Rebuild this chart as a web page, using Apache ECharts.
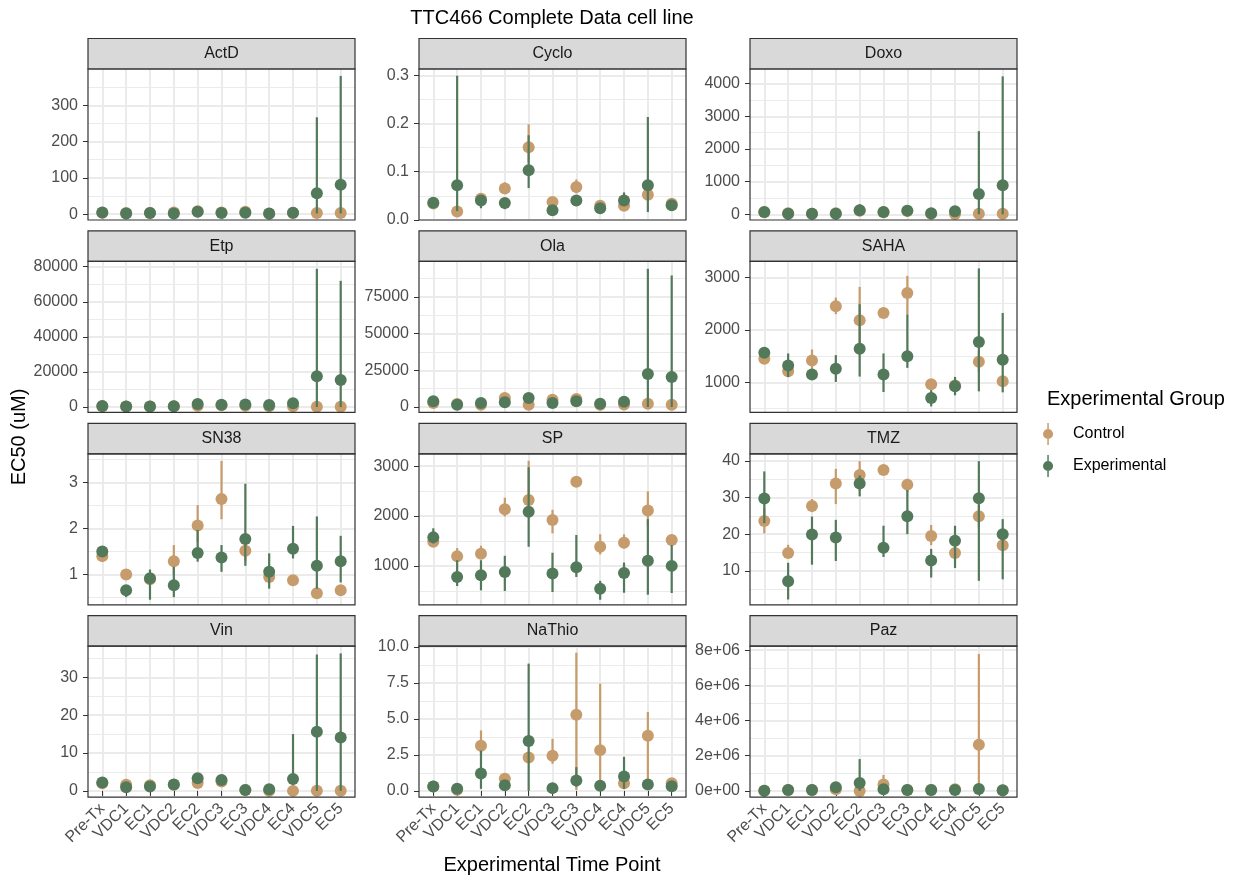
<!DOCTYPE html>
<html><head><meta charset="utf-8">
<script src="https://cdn.jsdelivr.net/npm/echarts@6/dist/echarts.min.js"></script>
<style>html,body{margin:0;padding:0;background:#fff}#chart{width:1236px;height:879px}</style>
</head><body><div id="chart"></div>
<script>
// ---------------- DATA ----------------
const categories = ['Pre-Tx','VDC1','EC1','VDC2','EC2','VDC3','EC3','VDC4','EC4','VDC5','EC5'];
const drugs = ['ActD','Cyclo','Doxo','Etp','Ola','SAHA','SN38','SP','TMZ','Vin','NaThio','Paz'];
const groups = ['Control','Experimental'];

// ActD
const ActD_ctrl   = [4, 3, 3, 5, 8, 5, 7, 1, 3, 3, 3];
const ActD_ctrlLo = [2, 1, 1, 2, 4, 2, 3, 0.5, 1, 1, 1];
const ActD_ctrlHi = [6, 5, 5, 9, 12, 8, 11, 2, 5, 5, 5];
const ActD_exp    = [4.6, 2, 3, 2, 6.5, 3, 4, 2, 4, 58, 81];
const ActD_expLo  = [3, 1, 2, 1, 4, 2, 2, 1, 2, 2, 2];
const ActD_expHi  = [6, 3, 4, 3, 9, 4, 6, 3, 6, 267, 381];
const ActD_yRange = [-16, 400];
const ActD_yTicks = [0, 100, 200, 300];
const ActD_yLabels = ['0', '100', '200', '300'];
const ActD_yMinor = [50, 150, 250, 350];

// Cyclo
const Cyclo_ctrl   = [0.034, 0.0174, 0.044, 0.065, 0.151, 0.037, 0.068, 0.029, 0.029, 0.052, 0.0335];
const Cyclo_ctrlLo = [0.031, 0.015, 0.040, 0.055, 0.120, 0.033, 0.055, 0.026, 0.026, 0.045, 0.030];
const Cyclo_ctrlHi = [0.037, 0.020, 0.048, 0.078, 0.199, 0.041, 0.084, 0.032, 0.032, 0.060, 0.037];
const Cyclo_exp    = [0.0356, 0.072, 0.040, 0.035, 0.103, 0.020, 0.040, 0.024, 0.040, 0.072, 0.030];
const Cyclo_expLo  = [0.032, 0.018, 0.024, 0.022, 0.066, 0.017, 0.033, 0.021, 0.032, 0.016, 0.019];
const Cyclo_expHi  = [0.039, 0.300, 0.048, 0.045, 0.176, 0.023, 0.048, 0.027, 0.057, 0.214, 0.038];
const Cyclo_yRange = [-0.0005, 0.314];
const Cyclo_yTicks = [0, 0.1, 0.2, 0.3];
const Cyclo_yLabels = ['0.0', '0.1', '0.2', '0.3'];
const Cyclo_yMinor = [0.05, 0.15, 0.25];

// Doxo
const Doxo_ctrl   = [60, 30, 20, 30, 110, 60, 100, 20, 10, 20, 20];
const Doxo_ctrlLo = [40, 15, 10, 15, 60, 40, 70, 10, 5, 10, 10];
const Doxo_ctrlHi = [80, 45, 30, 45, 160, 80, 130, 30, 20, 30, 30];
const Doxo_exp    = [72, 20, 20, 20, 123, 72, 113, 31, 92, 624, 890];
const Doxo_expLo  = [55, 10, 10, 10, 60, 55, 90, 20, 60, 0, 0];
const Doxo_expHi  = [90, 30, 30, 30, 310, 90, 140, 45, 130, 2547, 4225];
const Doxo_yRange = [-174, 4450];
const Doxo_yTicks = [0, 1000, 2000, 3000, 4000];
const Doxo_yLabels = ['0', '1000', '2000', '3000', '4000'];
const Doxo_yMinor = [500, 1500, 2500, 3500];

// Etp
const Etp_ctrl   = [500, 300, 300, 400, 700, 1000, 700, 500, 500, 200, 200];
const Etp_ctrlLo = [300, 150, 150, 200, 400, 700, 400, 300, 300, 100, 100];
const Etp_ctrlHi = [700, 450, 450, 600, 1000, 1300, 1000, 700, 700, 300, 300];
const Etp_exp    = [570, 300, 300, 400, 1700, 1340, 1500, 1150, 2100, 17560, 15460];
const Etp_expLo  = [400, 200, 200, 250, 1000, 900, 1000, 800, 1400, 0, 0];
const Etp_expHi  = [750, 400, 400, 550, 2400, 1800, 2000, 1500, 2800, 78840, 71970];
const Etp_yRange = [-3050, 83040];
const Etp_yTicks = [0, 20000, 40000, 60000, 80000];
const Etp_yLabels = ['0', '20000', '40000', '60000', '80000'];
const Etp_yMinor = [10000, 30000, 50000, 70000];

// Ola
const Ola_ctrl   = [2800, 2000, 1500, 6150, 1600, 5000, 5470, 1600, 1800, 2280, 1600];
const Ola_ctrlLo = [2300, 1600, 1200, 5000, 1300, 4200, 4700, 1300, 1500, 1900, 1300];
const Ola_ctrlHi = [3300, 2400, 1800, 7300, 1900, 5800, 6200, 1900, 2100, 2700, 1900];
const Ola_exp    = [3875, 1600, 2700, 3200, 6150, 2700, 3875, 2280, 3650, 22570, 20520];
const Ola_expLo  = [3300, 1300, 2200, 2600, 5000, 2200, 3200, 1900, 3000, 0, 0];
const Ola_expHi  = [4400, 1900, 3200, 3800, 7300, 3200, 4500, 2700, 4300, 94150, 89590];
const Ola_yRange = [-3650, 99160];
const Ola_yTicks = [0, 25000, 50000, 75000];
const Ola_yLabels = ['0', '25000', '50000', '75000'];
const Ola_yMinor = [12500, 37500, 62500, 87500];

// SAHA
const SAHA_ctrl   = [1447, 1211, 1415, 2451, 2182, 2323, 2706, 962, 940, 1390, 1019];
const SAHA_ctrlLo = [1400, 1170, 1250, 2300, 1700, 2280, 2300, 920, 900, 1200, 950];
const SAHA_ctrlHi = [1490, 1250, 1626, 2617, 2821, 2370, 3032, 1000, 980, 1600, 1090];
const SAHA_exp    = [1562, 1320, 1147, 1256, 1639, 1147, 1498, 700, 923, 1767, 1428];
const SAHA_expLo  = [1520, 1100, 1100, 1006, 1109, 815, 1275, 540, 751, 827, 808];
const SAHA_expHi  = [1600, 1550, 1200, 1518, 2489, 1550, 2297, 850, 1102, 3173, 2323];
const SAHA_yRange = [425, 3307];
const SAHA_yTicks = [1000, 2000, 3000];
const SAHA_yLabels = ['1000', '2000', '3000'];
const SAHA_yMinor = [500, 1500, 2500];

// SN38
const SN38_ctrl   = [1.40, 1.00, 0.90, 1.29, 2.062, 2.636, 1.516, 0.95, 0.876, 0.593, 0.658];
const SN38_ctrlLo = [1.35, 0.95, 0.85, 1.00, 1.70, 2.20, 1.30, 0.90, 0.83, 0.55, 0.62];
const SN38_ctrlHi = [1.45, 1.05, 0.95, 1.64, 2.505, 3.465, 1.70, 1.00, 0.92, 0.64, 0.70];
const SN38_exp    = [1.502, 0.658, 0.92, 0.767, 1.47, 1.37, 1.77, 1.06, 1.56, 1.19, 1.29];
const SN38_expLo  = [1.42, 0.51, 0.455, 0.51, 1.28, 1.06, 1.19, 0.695, 1.35, 0.695, 0.83];
const SN38_expHi  = [1.60, 0.75, 1.11, 1.17, 1.97, 1.64, 2.97, 1.46, 2.055, 2.26, 1.84];
const SN38_yRange = [0.345, 3.618];
const SN38_yTicks = [1, 2, 3];
const SN38_yLabels = ['1', '2', '3'];
const SN38_yMinor = [0.5, 1.5, 2.5, 3.5];

// SP
const SP_ctrl   = [1485, 1195, 1242, 2138, 2320, 1922, 2690, 1384, 1465, 2111, 1519];
const SP_ctrlLo = [1420, 1100, 1150, 1990, 2100, 1653, 2640, 1229, 1350, 1800, 1450];
const SP_ctrlHi = [1550, 1357, 1404, 2367, 3108, 2125, 2740, 1633, 1633, 2495, 1590];
const SP_exp    = [1572, 778, 811, 879, 2084, 845, 973, 542, 858, 1101, 1000];
const SP_expLo  = [1450, 596, 508, 495, 1384, 475, 778, 320, 461, 421, 455];
const SP_expHi  = [1754, 1114, 1114, 1202, 2980, 1263, 1620, 700, 1067, 1936, 1418];
const SP_yRange = [219, 3249];
const SP_yTicks = [1000, 2000, 3000];
const SP_yLabels = ['1000', '2000', '3000'];
const SP_yMinor = [500, 1500, 2500];

// TMZ
const TMZ_ctrl   = [23.6, 14.9, 27.7, 33.8, 36.1, 37.5, 33.5, 19.5, 14.9, 24.9, 17.0];
const TMZ_ctrlLo = [20.2, 13.5, 26.0, 28.2, 32.0, 36.5, 31.5, 17.0, 13.5, 22.0, 15.5];
const TMZ_ctrlHi = [27.0, 17.1, 29.6, 37.8, 39.9, 38.5, 35.1, 22.5, 16.5, 28.0, 18.5];
const TMZ_exp    = [29.7, 7.2, 19.9, 19.1, 33.8, 16.3, 24.9, 12.8, 18.2, 29.8, 20.0];
const TMZ_expLo  = [23.0, 2.2, 11.7, 12.7, 30.3, 13.8, 20.0, 8.2, 10.8, 7.3, 7.7];
const TMZ_expHi  = [37.1, 12.2, 24.8, 23.9, 36.0, 22.3, 32.0, 16.0, 22.3, 39.9, 24.1];
const TMZ_yRange = [0.76, 41.9];
const TMZ_yTicks = [10, 20, 30, 40];
const TMZ_yLabels = ['10', '20', '30', '40'];
const TMZ_yMinor = [5, 15, 25, 35];

// Vin
const Vin_ctrl   = [2.0, 1.6, 1.5, 1.6, 2.1, 2.5, 0.2, 0.0, 0.0, 0.05, 0.05];
const Vin_ctrlLo = [1.8, 1.4, 1.3, 1.4, 1.9, 2.3, 0.1, 0.0, 0.0, 0.0, 0.0];
const Vin_ctrlHi = [2.2, 1.8, 1.7, 1.8, 2.3, 2.7, 0.3, 0.1, 0.1, 0.1, 0.1];
const Vin_exp    = [2.2, 0.96, 1.14, 1.67, 3.33, 2.9, 0.26, 0.44, 3.16, 15.6, 14.1];
const Vin_expLo  = [1.9, 0.7, 0.9, 1.4, 2.9, 2.5, 0.1, 0.2, 1.5, 0.0, 0.0];
const Vin_expHi  = [2.5, 1.2, 1.4, 1.9, 3.8, 3.3, 0.4, 0.7, 15.0, 36.0, 36.3];
const Vin_yRange = [-1.67, 38.2];
const Vin_yTicks = [0, 10, 20, 30];
const Vin_yLabels = ['0', '10', '20', '30'];
const Vin_yMinor = [5, 15, 25, 35];

// NaThio
const NaThio_ctrl   = [0.30, 0.07, 3.13, 0.84, 2.32, 2.44, 5.29, 2.83, 0.53, 3.83, 0.53];
const NaThio_ctrlLo = [0.25, 0.03, 2.50, 0.70, 2.00, 1.88, 0.07, 0.26, 0.40, 0.60, 0.45];
const NaThio_ctrlHi = [0.35, 0.10, 4.20, 1.00, 2.60, 3.62, 9.60, 7.45, 0.70, 5.48, 0.60];
const NaThio_exp    = [0.30, 0.14, 1.21, 0.39, 3.46, 0.19, 0.72, 0.35, 1.00, 0.44, 0.32];
const NaThio_expLo  = [0.25, 0.05, 0.14, 0.30, 0.00, 0.12, 0.30, 0.28, 0.14, 0.35, 0.26];
const NaThio_expHi  = [0.35, 0.20, 2.80, 0.50, 8.84, 0.25, 1.65, 0.42, 2.37, 0.55, 0.40];
const NaThio_yRange = [-0.44, 10.05];
const NaThio_yTicks = [0, 2.5, 5, 7.5, 10];
const NaThio_yLabels = ['0.0', '2.5', '5.0', '7.5', '10.0'];
const NaThio_yMinor = [1.25, 3.75, 6.25, 8.75];

// Paz
const Paz_ctrl   = [10000, 50000, 50000, 94000, 0, 360000, 50000, 50000, 94000, 2620000, 30000];
const Paz_ctrlLo = [5000, 30000, 30000, 60000, 0, 100000, 30000, 30000, 60000, 0, 20000];
const Paz_ctrlHi = [15000, 70000, 70000, 130000, 10000, 910000, 70000, 70000, 130000, 7790000, 40000];
const Paz_exp    = [10000, 57000, 57000, 210000, 450000, 94000, 57000, 50000, 57000, 110000, 38000];
const Paz_expLo  = [5000, 40000, 40000, 150000, 0, 60000, 40000, 30000, 40000, 60000, 25000];
const Paz_expHi  = [15000, 75000, 75000, 270000, 1810000, 130000, 75000, 70000, 75000, 160000, 50000];
const Paz_yRange = [-358000, 8230000];
const Paz_yTicks = [0, 2e6, 4e6, 6e6, 8e6];
const Paz_yLabels = ['0e+00', '2e+06', '4e+06', '6e+06', '8e+06'];
const Paz_yMinor = [1e6, 3e6, 5e6, 7e6];

// table built from the arrays above
const TABLE = {
  ActD:   {c:[ActD_ctrl,ActD_ctrlLo,ActD_ctrlHi], e:[ActD_exp,ActD_expLo,ActD_expHi], r:ActD_yRange, t:ActD_yTicks, l:ActD_yLabels, m:ActD_yMinor},
  Cyclo:  {c:[Cyclo_ctrl,Cyclo_ctrlLo,Cyclo_ctrlHi], e:[Cyclo_exp,Cyclo_expLo,Cyclo_expHi], r:Cyclo_yRange, t:Cyclo_yTicks, l:Cyclo_yLabels, m:Cyclo_yMinor},
  Doxo:   {c:[Doxo_ctrl,Doxo_ctrlLo,Doxo_ctrlHi], e:[Doxo_exp,Doxo_expLo,Doxo_expHi], r:Doxo_yRange, t:Doxo_yTicks, l:Doxo_yLabels, m:Doxo_yMinor},
  Etp:    {c:[Etp_ctrl,Etp_ctrlLo,Etp_ctrlHi], e:[Etp_exp,Etp_expLo,Etp_expHi], r:Etp_yRange, t:Etp_yTicks, l:Etp_yLabels, m:Etp_yMinor},
  Ola:    {c:[Ola_ctrl,Ola_ctrlLo,Ola_ctrlHi], e:[Ola_exp,Ola_expLo,Ola_expHi], r:Ola_yRange, t:Ola_yTicks, l:Ola_yLabels, m:Ola_yMinor},
  SAHA:   {c:[SAHA_ctrl,SAHA_ctrlLo,SAHA_ctrlHi], e:[SAHA_exp,SAHA_expLo,SAHA_expHi], r:SAHA_yRange, t:SAHA_yTicks, l:SAHA_yLabels, m:SAHA_yMinor},
  SN38:   {c:[SN38_ctrl,SN38_ctrlLo,SN38_ctrlHi], e:[SN38_exp,SN38_expLo,SN38_expHi], r:SN38_yRange, t:SN38_yTicks, l:SN38_yLabels, m:SN38_yMinor},
  SP:     {c:[SP_ctrl,SP_ctrlLo,SP_ctrlHi], e:[SP_exp,SP_expLo,SP_expHi], r:SP_yRange, t:SP_yTicks, l:SP_yLabels, m:SP_yMinor},
  TMZ:    {c:[TMZ_ctrl,TMZ_ctrlLo,TMZ_ctrlHi], e:[TMZ_exp,TMZ_expLo,TMZ_expHi], r:TMZ_yRange, t:TMZ_yTicks, l:TMZ_yLabels, m:TMZ_yMinor},
  Vin:    {c:[Vin_ctrl,Vin_ctrlLo,Vin_ctrlHi], e:[Vin_exp,Vin_expLo,Vin_expHi], r:Vin_yRange, t:Vin_yTicks, l:Vin_yLabels, m:Vin_yMinor},
  NaThio: {c:[NaThio_ctrl,NaThio_ctrlLo,NaThio_ctrlHi], e:[NaThio_exp,NaThio_expLo,NaThio_expHi], r:NaThio_yRange, t:NaThio_yTicks, l:NaThio_yLabels, m:NaThio_yMinor},
  Paz:    {c:[Paz_ctrl,Paz_ctrlLo,Paz_ctrlHi], e:[Paz_exp,Paz_expLo,Paz_expHi], r:Paz_yRange, t:Paz_yTicks, l:Paz_yLabels, m:Paz_yMinor}
};

// ---------------- LAYOUT / STYLE ----------------
const FONT = '"Liberation Sans", Arial, Helvetica, sans-serif';
const COLORS = {Control: '#C69C6D', Experimental: '#52795A'};
const colLeft = [88, 419, 750];
const panelW = 267;
const rowTop = [69, 261.4, 453.8, 646.2];
const panelH = 151;
const stripH = 30.5;
const inset = 0.6 * panelW / 11.2;
const GRID_MAJOR = '#EBEBEB';

const grids = [], xAxes = [], yAxes = [], series = [], graphics = [];

drugs.forEach((name, p) => {
  const r = Math.floor(p / 3), c = p % 3;
  const d = TABLE[name];
  const L = colLeft[c], T = rowTop[r];
  // frame grid (horizontal grid lines, y labels)
  grids.push({left: L, top: T, width: panelW, height: panelH, show: true, backgroundColor: '#fff', borderWidth: 0});
  // data grid (category positions with ggplot's 0.6 expansion)
  grids.push({left: L + inset, top: T, width: panelW - 2 * inset, height: panelH});
  const gA = 2 * p, gB = 2 * p + 1;
  xAxes.push({gridIndex: gA, type: 'value', min: 0, max: 1, show: false});
  xAxes.push({
    gridIndex: gB, type: 'category', data: categories, boundaryGap: false,
    axisLine: {show: false},
    axisTick: {show: r === 3, length: 5, interval: 0, lineStyle: {color: '#333333', width: 1}},
    axisLabel: {show: r === 3, rotate: 45, interval: 0, fontSize: 16, fontFamily: FONT, color: '#4D4D4D', margin: 9},
    splitLine: {show: true, interval: 0, lineStyle: {color: GRID_MAJOR, width: 2}}
  });
  const fmt = v => {
    const i = d.t.findIndex(t => Math.abs(t - v) <= 1e-9 * Math.max(1, Math.abs(t)));
    return i >= 0 ? d.l[i] : '';
  };
  yAxes.push({
    gridIndex: gA, type: 'value', min: d.r[0], max: d.r[1], position: 'left',
    axisLine: {show: false},
    axisTick: {show: true, length: 5, customValues: d.t, lineStyle: {color: '#333333', width: 1}},
    axisLabel: {show: true, customValues: d.t, formatter: fmt, fontSize: 16, fontFamily: FONT, color: '#4D4D4D', margin: 10},
    splitLine: {show: true, lineStyle: {color: GRID_MAJOR, width: 2}}
  });
  yAxes.push({
    gridIndex: gA, type: 'value', min: d.r[0], max: d.r[1], position: 'left',
    axisLine: {show: false},
    axisTick: {show: false, customValues: d.m},
    axisLabel: {show: false, customValues: d.m},
    splitLine: {show: true, lineStyle: {color: GRID_MAJOR, width: 1}}
  });
  yAxes.push({gridIndex: gB, type: 'value', min: d.r[0], max: d.r[1], show: false});

  const xi = gB, yi = 3 * p + 2;
  [['Control', d.c], ['Experimental', d.e]].forEach(([g, arr], gi) => {
    const col = COLORS[g];
    series.push({
      name: g, type: 'custom', coordinateSystem: 'cartesian2d', xAxisIndex: xi, yAxisIndex: yi,
      z: 2 + gi * 2, silent: true, itemStyle: {color: col},
      encode: {x: 0, y: [1, 2]},
      data: categories.map((cat, i) => [i, arr[1][i], arr[2][i]]),
      renderItem: (params, api) => {
        const x = api.value(0);
        const p1 = api.coord([x, api.value(1)]);
        const p2 = api.coord([x, api.value(2)]);
        return {type: 'line', shape: {x1: p1[0], y1: p1[1], x2: p2[0], y2: p2[1]},
                style: {stroke: col, lineWidth: 2.2}};
      }
    });
    series.push({
      name: g, type: 'scatter', xAxisIndex: xi, yAxisIndex: yi, z: 3 + gi * 2,
      symbol: 'circle', symbolSize: 12, itemStyle: {color: col, opacity: 1},
      emphasis: {disabled: true},
      data: categories.map((cat, i) => [i, arr[0][i]])
    });
  });

  // strip
  graphics.push({type: 'rect', z: 100, shape: {x: L, y: T - stripH, width: panelW, height: stripH},
    style: {fill: '#D9D9D9', stroke: '#333333', lineWidth: 1.2}});
  graphics.push({type: 'text', z: 101, x: L + panelW / 2, y: T - stripH / 2,
    style: {text: name, fontSize: 16, fontFamily: FONT, fill: '#1A1A1A', align: 'center', verticalAlign: 'middle', textAlign: 'center', textVerticalAlign: 'middle'}});
  // panel border on top
  graphics.push({type: 'rect', z: 100, shape: {x: L, y: T, width: panelW, height: panelH},
    style: {fill: 'none', stroke: '#333333', lineWidth: 1.2}});
});

// titles
graphics.push({type: 'text', z: 101, x: 552, y: 18,
  style: {text: 'TTC466 Complete Data cell line', fontSize: 20, fontFamily: FONT, fill: '#000', align: 'center', verticalAlign: 'middle', textAlign: 'center', textVerticalAlign: 'middle'}});
graphics.push({type: 'text', z: 101, x: 552, y: 865,
  style: {text: 'Experimental Time Point', fontSize: 20, fontFamily: FONT, fill: '#000', align: 'center', verticalAlign: 'middle', textAlign: 'center', textVerticalAlign: 'middle'}});
graphics.push({type: 'text', z: 101, x: 19, y: 437, rotation: Math.PI / 2,
  style: {text: 'EC50 (uM)', fontSize: 20, fontFamily: FONT, fill: '#000', align: 'center', verticalAlign: 'middle', textAlign: 'center', textVerticalAlign: 'middle'}});
graphics.push({type: 'text', z: 101, x: 1047, y: 399,
  style: {text: 'Experimental Group', fontSize: 20, fontFamily: FONT, fill: '#000', align: 'left', verticalAlign: 'middle', textAlign: 'left', textVerticalAlign: 'middle'}});

const KEY_ICON = 'path://M5.2,0L6.8,0L6.8,24L5.2,24Z M0.5,12A5.5,5.5,0,1,1,11.5,12A5.5,5.5,0,1,1,0.5,12Z';

const option = {
  animation: false,
  backgroundColor: '#ffffff',
  textStyle: {fontFamily: FONT},
  grid: grids, xAxis: xAxes, yAxis: yAxes, series: series,
  legend: {
    orient: 'vertical', left: 1038, top: 418, itemWidth: 40, itemHeight: 22, itemGap: 10,
    selectedMode: false,
    textStyle: {fontSize: 16, fontFamily: FONT, color: '#000'},
    data: groups.map(g => ({name: g, icon: KEY_ICON, itemStyle: {color: COLORS[g]}}))
  },
  graphic: {elements: graphics}
};

const chart = echarts.init(document.getElementById('chart'), null, {renderer: 'canvas', width: 1236, height: 879});
chart.setOption(option);
</script></body></html>
